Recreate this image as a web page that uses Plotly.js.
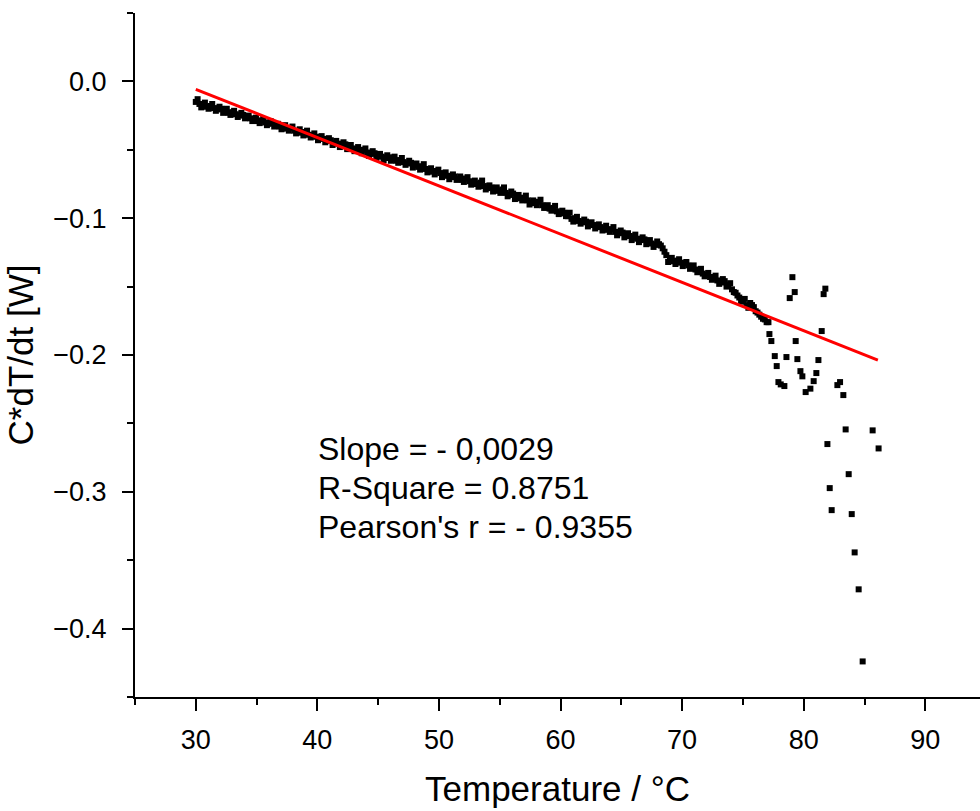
<!DOCTYPE html>
<html>
<head>
<meta charset="utf-8">
<script src="https://cdn.plot.ly/plotly-3.0.1.min.js"></script>
<style>html,body{margin:0;padding:0;background:#fff;}#chart{width:980px;height:811px;}</style>
</head>
<body>
<div id="chart"></div>
<script>
// Measured points: temperature (°C) and C*dT/dt (W)
const tempBand = [30.0,30.3,30.6,30.9,31.2,31.5,31.8,32.1,32.4,32.7,33.0,33.3,33.6,33.9,34.2,34.5,34.8,35.1,35.4,35.7,
36.0,36.3,36.6,36.9,37.2,37.5,37.8,38.1,38.4,38.7,39.0,39.3,39.6,39.9,40.2,40.5,40.8,41.1,41.4,41.7,
42.0,42.3,42.6,42.9,43.2,43.5,43.8,44.1,44.4,44.7,45.0,45.3,45.6,45.9,46.2,46.5,46.8,47.1,47.4,47.7,
48.0,48.3,48.6,48.9,49.2,49.5,49.8,50.1,50.4,50.7,51.0,51.3,51.6,51.9,52.2,52.5,52.8,53.1,53.4,53.7,
54.0,54.3,54.6,54.9,55.2,55.5,55.8,56.1,56.4,56.7,57.0,57.3,57.6,57.9,58.2,58.5,58.8,59.1,59.4,59.7,
60.0,60.3,60.6,60.9,61.2,61.5,61.8,62.1,62.4,62.7,63.0,63.3,63.6,63.9,64.2,64.5,64.8,65.1,65.4,65.7,
66.0,66.3,66.6,66.9,67.2,67.5,67.8,68.1,68.4,68.7,69.0,69.3,69.6,69.9,70.2,70.5,70.8,71.1,71.4,71.7,
72.0,72.3,72.6,72.9,73.2,73.5,73.8,74.1,74.4,74.7,75.0,75.3,75.6,75.9,76.2,76.5,76.8,77.1];
const powerBand = [-0.0150,-0.0165,-0.0170,-0.0185,-0.0180,-0.0195,-0.0205,-0.0200,-0.0215,-0.0230,-0.0225,-0.0240,-0.0250,-0.0245,-0.0265,-0.0270,-0.0280,-0.0290,-0.0285,-0.0300,
-0.0310,-0.0305,-0.0320,-0.0330,-0.0335,-0.0345,-0.0340,-0.0360,-0.0365,-0.0375,-0.0370,-0.0390,-0.0395,-0.0405,-0.0415,-0.0420,-0.0435,-0.0430,-0.0450,-0.0455,
-0.0465,-0.0460,-0.0480,-0.0490,-0.0495,-0.0505,-0.0500,-0.0520,-0.0530,-0.0525,-0.0545,-0.0550,-0.0560,-0.0555,-0.0565,-0.0580,-0.0575,-0.0590,-0.0600,-0.0595,
-0.0615,-0.0625,-0.0620,-0.0640,-0.0650,-0.0660,-0.0655,-0.0670,-0.0685,-0.0690,-0.0700,-0.0695,-0.0715,-0.0720,-0.0710,-0.0730,-0.0745,-0.0750,-0.0740,-0.0765,
-0.0780,-0.0775,-0.0795,-0.0800,-0.0790,-0.0815,-0.0830,-0.0820,-0.0845,-0.0855,-0.0850,-0.0870,-0.0885,-0.0890,-0.0880,-0.0905,-0.0920,-0.0930,-0.0925,-0.0950,
-0.0965,-0.0960,-0.0985,-0.1005,-0.1000,-0.1020,-0.1030,-0.1025,-0.1045,-0.1050,-0.1060,-0.1065,-0.1075,-0.1085,-0.1080,-0.1100,-0.1110,-0.1105,-0.1125,-0.1130,
-0.1140,-0.1150,-0.1160,-0.1155,-0.1175,-0.1185,-0.1195,-0.1190,-0.1220,-0.1270,-0.1300,-0.1315,-0.1310,-0.1325,-0.1330,-0.1345,-0.1360,-0.1375,-0.1390,-0.1405,
-0.1415,-0.1430,-0.1440,-0.1455,-0.1470,-0.1460,-0.1490,-0.1520,-0.1545,-0.1580,-0.1610,-0.1635,-0.1620,-0.1650,-0.1690,-0.1720,-0.1740,-0.1760];

const tempBand2 = [30.15,30.45,30.75,31.05,31.35,31.65,31.95,32.25,32.55,32.85,33.15,33.45,33.75,34.05,34.35,34.65,34.95,35.25,35.55,35.85,
36.15,36.45,36.75,37.05,37.35,37.65,37.95,38.25,38.55,38.85,39.15,39.45,39.75,40.05,40.35,40.65,40.95,41.25,41.55,41.85,
42.15,42.45,42.75,43.05,43.35,43.65,43.95,44.25,44.55,44.85,45.15,45.45,45.75,46.05,46.35,46.65,46.95,47.25,47.55,47.85,
48.15,48.45,48.75,49.05,49.35,49.65,49.95,50.25,50.55,50.85,51.15,51.45,51.75,52.05,52.35,52.65,52.95,53.25,53.55,53.85,
54.15,54.45,54.75,55.05,55.35,55.65,55.95,56.25,56.55,56.85,57.15,57.45,57.75,58.05,58.35,58.65,58.95,59.25,59.55,59.85,
60.15,60.45,60.75,61.05,61.35,61.65,61.95,62.25,62.55,62.85,63.15,63.45,63.75,64.05,64.35,64.65,64.95,65.25,65.55,65.85,
66.15,66.45,66.75,67.05,67.35,67.65,67.95,68.25,68.55,68.85,69.15,69.45,69.75,70.05,70.35,70.65,70.95,71.25,71.55,71.85,
72.15,72.45,72.75,73.05,73.35,73.65,73.95,74.25,74.55,74.85,75.15,75.45,75.75,76.05,76.35,76.65,76.95];
const powerBand2 = [-0.0130,-0.0190,-0.0155,-0.0200,-0.0165,-0.0215,-0.0185,-0.0230,-0.0200,-0.0245,-0.0215,-0.0260,-0.0230,-0.0270,-0.0250,-0.0290,-0.0265,-0.0305,-0.0275,-0.0320,
-0.0290,-0.0330,-0.0310,-0.0350,-0.0320,-0.0360,-0.0330,-0.0380,-0.0350,-0.0395,-0.0360,-0.0410,-0.0380,-0.0430,-0.0400,-0.0445,-0.0415,-0.0465,-0.0435,-0.0480,
-0.0445,-0.0495,-0.0465,-0.0510,-0.0480,-0.0525,-0.0490,-0.0545,-0.0510,-0.0560,-0.0530,-0.0575,-0.0540,-0.0580,-0.0550,-0.0595,-0.0560,-0.0610,-0.0580,-0.0630,
-0.0600,-0.0645,-0.0605,-0.0665,-0.0635,-0.0680,-0.0645,-0.0700,-0.0665,-0.0715,-0.0680,-0.0720,-0.0695,-0.0735,-0.0700,-0.0755,-0.0725,-0.0770,-0.0725,-0.0790,
-0.0760,-0.0805,-0.0775,-0.0815,-0.0775,-0.0840,-0.0805,-0.0860,-0.0830,-0.0870,-0.0835,-0.0900,-0.0870,-0.0905,-0.0865,-0.0925,-0.0905,-0.0945,-0.0910,-0.0970,
-0.0945,-0.0985,-0.0960,-0.1025,-0.0990,-0.1040,-0.1010,-0.1060,-0.1030,-0.1075,-0.1045,-0.1090,-0.1055,-0.1100,-0.1065,-0.1125,-0.1090,-0.1140,-0.1110,-0.1160,
-0.1120,-0.1175,-0.1140,-0.1190,-0.1160,-0.1210,-0.1170,-0.1200,-0.1245,-0.1320,-0.1290,-0.1335,-0.1300,-0.1350,-0.1320,-0.1370,-0.1345,-0.1395,-0.1370,-0.1425,
-0.1400,-0.1450,-0.1420,-0.1480,-0.1445,-0.1500,-0.1475,-0.1540,-0.1565,-0.1605,-0.1590,-0.1655,-0.1635,-0.1680,-0.1705,-0.1735,-0.1760];

const tempScatter = [77.18,77.34,77.62,77.78,77.92,78.11,78.41,78.58,78.85,79.07,79.26,79.34,79.48,79.73,79.89,80.16,80.55,80.82,81.04,81.21,
81.48,81.64,81.78,81.95,82.14,82.30,82.77,82.99,83.26,83.45,83.70,83.95,84.19,84.52,84.85,85.67,86.16];
const powerScatter = [-0.1847,-0.1898,-0.2008,-0.2081,-0.2198,-0.2215,-0.2227,-0.2015,-0.1584,-0.1431,-0.1540,-0.1898,-0.2030,-0.2118,-0.2156,-0.2271,-0.2246,-0.2191,-0.2132,-0.2037,
-0.1825,-0.1555,-0.1515,-0.2651,-0.2973,-0.3134,-0.2220,-0.2198,-0.2293,-0.2544,-0.2871,-0.3163,-0.3443,-0.3713,-0.4240,-0.2551,-0.2683];

// Linear fit line endpoints
const fitTemp = [30.0, 86.1];
const fitPower = [-0.0058, -0.2037];

const fitLabels = ["Slope = - 0,0029", "R-Square = 0.8751", "Pearson's r = - 0.9355"];

const FONT = "Liberation Sans, Arial, sans-serif";

const traces = [
  {x: tempBand.concat(tempBand2, tempScatter), y: powerBand.concat(powerBand2, powerScatter), type: 'scatter', mode: 'markers',
   marker: {symbol: 'square', size: 6, color: '#000000'}, hoverinfo: 'skip'},
  {x: fitTemp, y: fitPower, type: 'scatter', mode: 'lines',
   line: {color: '#ff0000', width: 3}, hoverinfo: 'skip'}
];

const annYs = [0.3626, 0.3056, 0.2485];
const annotations = fitLabels.map((t, i) => ({
  text: t, xref: 'paper', yref: 'paper', x: 0.2142, y: annYs[i],
  xanchor: 'left', yanchor: 'middle', showarrow: false,
  font: {family: FONT, size: 32, color: '#000'}
}));

const layout = {
  width: 980, height: 811,
  margin: {l: 135, r: 0, t: 13, b: 114, pad: 0},
  paper_bgcolor: '#fff', plot_bgcolor: '#fff',
  showlegend: false,
  font: {family: FONT, color: '#000'},
  xaxis: {
    range: [25, 94.5], showgrid: false, zeroline: false,
    showline: true, linecolor: '#000', linewidth: 2,
    ticks: 'outside', ticklen: 12, tickwidth: 2, tickcolor: '#000',
    tick0: 0, dtick: 10,
    minor: {ticks: 'outside', ticklen: 6, tickwidth: 2, tickcolor: '#000', dtick: 5, tick0: 0, showgrid: false},
    tickfont: {family: FONT, size: 27, color: '#000'},
    ticklabelstandoff: 6,
    title: {text: 'Temperature / \u00B0C', font: {family: FONT, size: 35, color: '#000'}, standoff: 22},
    automargin: false, fixedrange: true
  },
  yaxis: {
    range: [-0.45, 0.05], showgrid: false, zeroline: false,
    showline: true, linecolor: '#000', linewidth: 2,
    ticks: 'outside', ticklen: 11, tickwidth: 2, tickcolor: '#000',
    tick0: 0, dtick: 0.1, tickformat: '.1f',
    minor: {ticks: 'outside', ticklen: 6, tickwidth: 2, tickcolor: '#000', dtick: 0.05, tick0: 0, showgrid: false},
    tickfont: {family: FONT, size: 27, color: '#000'},
    ticklabelstandoff: 10,
    title: {text: 'C*dT/dt [W]', font: {family: FONT, size: 35, color: '#000'}, standoff: 9},
    automargin: false, fixedrange: true
  },
  annotations: annotations
};

Plotly.newPlot('chart', traces, layout, {staticPlot: true, displayModeBar: false});
</script>
</body>
</html>
